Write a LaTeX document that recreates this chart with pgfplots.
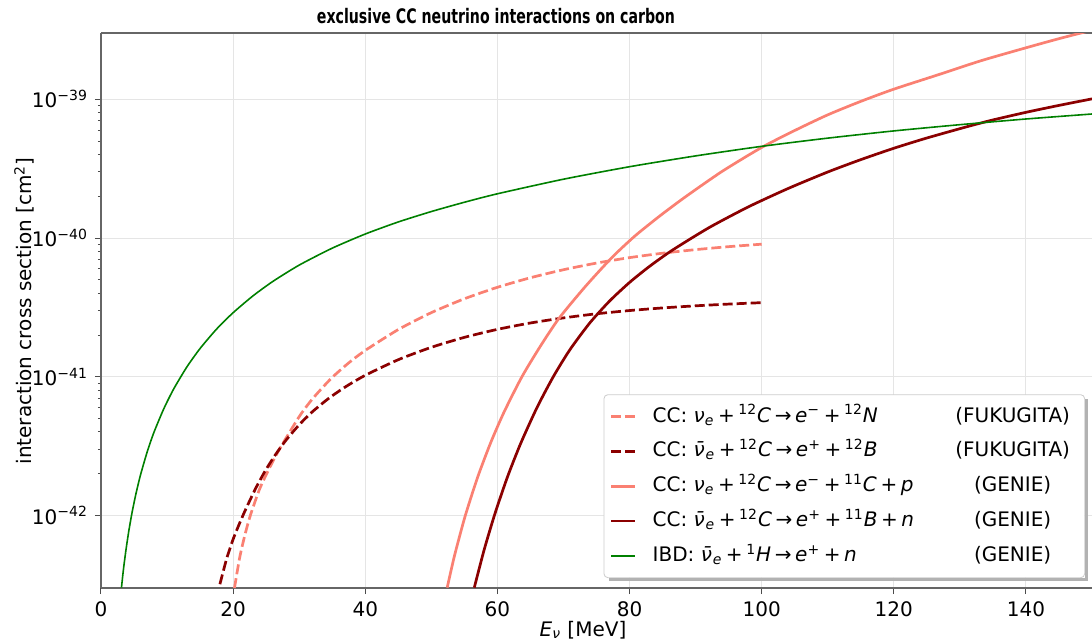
\documentclass[border=0pt]{standalone}
\usepackage{fontspec}
\setmainfont{DejaVu Sans}
\usepackage{graphicx}
\usepackage{pgfplots}
\pgfplotsset{compat=1.18}

\definecolor{salmon}{HTML}{FA8072}
\definecolor{dred}{HTML}{8B0000}
\definecolor{mgreen}{HTML}{008000}

\newcommand{\op}[1]{\hspace{0.18em}#1\hspace{0.18em}}
\newcommand{\nue}{\textit{ν}\textsubscript{\textit{e}}}
\newcommand{\nuebar}{\textit{\=ν}\textsubscript{\textit{e}}}
\newcommand{\legrow}[2]{\makebox[147pt][l]{#1}\makebox[66pt][c]{#2}}

\begin{document}
\begin{tikzpicture}
\begin{axis}[
  width=495.5pt, height=277.5pt, scale only axis,
  xmin=0, xmax=150,
  ymode=log, ymin=3e-43, ymax=3e-39,
  xtick={0,20,40,60,80,100,120,140},
  ytick={1e-42,1e-41,1e-40,1e-39},
  yticklabels={10\textsuperscript{−42},10\textsuperscript{−41},10\textsuperscript{−40},10\textsuperscript{−39}},
  /pgf/number format/assume math mode=true,
  tick label style={font=\fontsize{10}{12}\selectfont},
  axis x line*=box, axis y line*=left,
  xtick pos=left,
  tick align=outside,
  major tick length=3pt, minor tick length=1.6pt,
  tick style={black!70, line width=0.5pt},
  axis line style={black!60, line width=0.6pt},
  grid=major,
  major grid style={black!10, line width=0.5pt},
  minor grid style={draw=none},
  xticklabel style={yshift=-0.5pt},
  legend style={name=leg, at={(0.993,0.018)}, anchor=south east,
    draw=black!20, rounded corners=2pt, fill=white,
    font=\fontsize{10}{12}\selectfont,
    inner xsep=3pt, inner ysep=4.7pt, row sep=4.9pt,
    nodes={inner sep=0pt, text height=9pt, text depth=3.5pt},
    /tikz/every odd column/.append style={column sep=8pt}},
  legend cell align=left,
  legend image code/.code={\draw[#1] (0pt,0pt) -- (12pt,0pt);},
]
% FUKUGITA nu_e
\addplot[salmon, line width=1.35pt, dash pattern=on 5pt off 2pt, smooth, tension=0.4] table {
20.2 3.0e-43
21.0 5.0e-43
21.8 7.3e-43
22.6 1.0e-42
24.0 1.55e-42
25.5 2.2e-42
27.0 3.0e-42
30.0 5.16e-42
32.0 6.92e-42
34.8 9.69e-42
37.5 1.26e-41
40.1 1.56e-41
45.0 2.19e-41
50.0 2.90e-41
55.0 3.65e-41
60.0 4.415e-41
65.0 5.175e-41
70.0 5.91e-41
75.0 6.60e-41
80.0 7.225e-41
85.0 7.775e-41
90.0 8.25e-41
95.0 8.665e-41
100.0 9.03e-41
};
\addlegendentry{\legrow{CC: \nue\op{+}\textsuperscript{12}\textit{C}\op{→}\textit{e}\textsuperscript{−}\op{+}\textsuperscript{12}\textit{N}}{(FUKUGITA)}}
% FUKUGITA nubar_e
\addplot[dred, line width=1.35pt, dash pattern=on 5pt off 2pt, smooth, tension=0.4] table {
18.0 3.2e-43
19.0 4.85e-43
20.0 6.75e-43
21.0 8.85e-43
22.0 1.135e-42
23.5 1.60e-42
25.0 2.155e-42
26.5 2.785e-42
28.0 3.49e-42
30.0 4.51e-42
32.0 5.60e-42
34.5 7.01e-42
37.0 8.46e-42
40.0 1.025e-41
45.0 1.328e-41
50.0 1.631e-41
55.0 1.924e-41
60.0 2.197e-41
65.0 2.442e-41
70.0 2.657e-41
75.0 2.845e-41
80.0 3.002e-41
85.0 3.135e-41
90.0 3.247e-41
95.0 3.342e-41
100.0 3.422e-41
};
\addlegendentry{\legrow{CC: \nuebar\op{+}\textsuperscript{12}\textit{C}\op{→}\textit{e}\textsuperscript{+}\op{+}\textsuperscript{12}\textit{B}}{(FUKUGITA)}}
% GENIE nu_e
\addplot[salmon, line width=1.35pt, smooth, tension=0.4] table {
52.4 3.02e-43
53.5 5.12e-43
55.1 9.84e-43
57.0 1.884e-42
59.0 3.365e-42
61.0 5.559e-42
63.7 9.98e-42
66.5 1.660e-41
69.3 2.630e-41
73.3 4.467e-41
77.3 7.211e-41
80.8 1.033e-40
84.6 1.445e-40
88.4 1.972e-40
94.0 3.020e-40
100.0 4.498e-40
105.0 5.957e-40
110.0 7.727e-40
115.0 9.66e-40
120.0 1.183e-39
126.6 1.496e-39
133.2 1.897e-39
140.0 2.350e-39
145.0 2.735e-39
150.0 3.148e-39
};
\addlegendentry{\legrow{CC: \nue\op{+}\textsuperscript{12}\textit{C}\op{→}\textit{e}\textsuperscript{−}\op{+}\textsuperscript{11}\textit{C}\op{+}\textit{p}}{(GENIE)}}
% GENIE nubar_e
\addplot[dred, line width=1.35pt, smooth, tension=0.4] table {
56.5 3.02e-43
58.0 5.675e-43
59.6 1.021e-42
61.5 1.884e-42
63.5 3.289e-42
66.0 6.012e-42
68.5 1.009e-41
71.0 1.574e-41
74.0 2.449e-41
77.0 3.524e-41
80.0 4.786e-41
83.0 6.237e-41
86.4 8.128e-41
92.0 1.186e-40
98.0 1.679e-40
104.0 2.275e-40
110.0 2.992e-40
115.0 3.673e-40
120.0 4.436e-40
125.0 5.26e-40
131.2 6.368e-40
135.0 7.096e-40
140.0 8.054e-40
145.0 9.036e-40
150.0 1.007e-39
};
\addlegendentry{\legrow{CC: \nuebar\op{+}\textsuperscript{12}\textit{C}\op{→}\textit{e}\textsuperscript{+}\op{+}\textsuperscript{11}\textit{B}\op{+}\textit{n}}{(GENIE)}}
% IBD
\addplot[mgreen, line width=0.8pt, smooth, tension=0.4] table {
3.1 3.02e-43
3.3 3.72e-43
3.5 4.48e-43
3.8 5.74e-43
4.2 7.69e-43
4.7 1.050e-42
5.3 1.442e-42
6.0 1.977e-42
7.0 2.884e-42
8.0 3.963e-42
9.5 5.875e-42
11.0 8.166e-42
13.0 1.178e-41
15.0 1.600e-41
17.5 2.208e-41
20.0 2.897e-41
23.0 3.828e-41
26.0 4.864e-41
30.0 6.383e-41
35.0 8.453e-41
40.0 1.069e-40
45.0 1.306e-40
50.0 1.552e-40
55.0 1.811e-40
60.0 2.084e-40
70.0 2.655e-40
80.0 3.266e-40
90.0 3.908e-40
100.0 4.581e-40
110.0 5.248e-40
120.0 5.916e-40
130.0 6.561e-40
140.0 7.211e-40
150.0 7.834e-40
};
\addlegendentry{\legrow{IBD: \nuebar\op{+}\textsuperscript{1}\textit{H}\op{→}\textit{e}\textsuperscript{+}\op{+}\textit{n}}{(GENIE)}}
\end{axis}
% legend shadow (bottom and right strips)
\fill[black!30] ([xshift=2.5pt,yshift=-1.3pt]leg.south west) rectangle ([xshift=1.3pt]leg.south east);
\fill[black!30] ([yshift=-2.5pt]leg.north east) rectangle ([xshift=1.3pt]leg.south east);
\node[anchor=base, font=\fontsize{10}{12}\selectfont\bfseries] at ([xshift=197.5pt,yshift=282pt]current axis.south west) {\resizebox{179pt}{\height}{exclusive CC neutrino interactions on carbon}};
\node[anchor=base, font=\fontsize{10}{12}\selectfont] at ([xshift=241pt,yshift=-24pt]current axis.south west) {\textit{E}\textsubscript{\textit{ν}} [MeV]};
\node[anchor=base, rotate=90, font=\fontsize{10}{12}\selectfont] at ([xshift=-34.5pt,yshift=138.5pt]current axis.south west) {interaction cross section [cm\textsuperscript{2}]};
\pgfresetboundingbox
\path ([xshift=-50.5pt,yshift=-27pt]current axis.south west) rectangle ++(546pt,321pt);
\end{tikzpicture}
\end{document}
